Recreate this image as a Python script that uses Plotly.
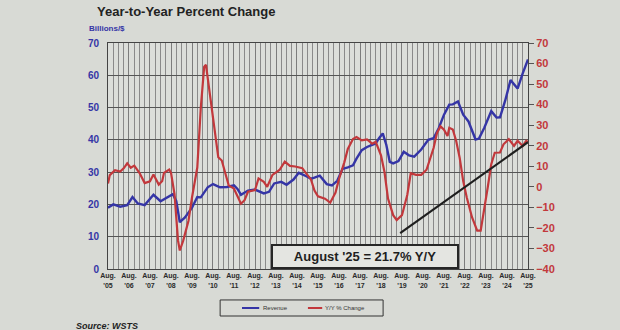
import plotly.graph_objects as go

# Monthly semiconductor revenue (3-month average), billions of dollars
rev_dates = [
    "2005-08", "2005-11", "2006-03", "2006-07", "2006-10", "2007-01", "2007-05", "2007-10",
    "2008-02", "2008-05", "2008-09", "2008-11", "2009-01", "2009-04", "2009-08", "2009-11",
    "2010-01", "2010-05", "2010-08", "2010-12", "2011-04", "2011-08", "2011-10", "2011-12",
    "2012-04", "2012-08", "2012-11", "2013-01", "2013-04", "2013-07", "2013-11", "2014-02",
    "2014-06", "2014-09", "2015-01", "2015-04", "2015-06", "2015-09", "2016-01", "2016-04",
    "2016-07", "2016-10", "2017-01", "2017-04", "2017-06", "2017-09", "2017-12", "2018-03",
    "2018-05", "2018-07", "2018-09", "2018-11", "2019-01", "2019-03", "2019-06", "2019-09",
    "2019-12", "2020-03", "2020-05", "2020-07", "2020-11", "2021-02", "2021-05", "2021-08",
    "2021-11", "2022-01", "2022-04", "2022-07", "2022-10", "2023-02", "2023-04", "2023-07",
    "2023-11", "2024-02", "2024-04", "2024-07", "2024-10", "2025-02", "2025-05", "2025-08",
]
revenue = [
    19.0, 20.0, 19.3, 19.8, 22.3, 20.3, 19.8, 23.0,
    21.0, 22.0, 23.2, 21.0, 14.5, 16.0, 19.0, 22.3,
    22.2, 25.3, 26.3, 25.3, 25.4, 25.9, 24.8, 23.0,
    24.3, 24.6, 23.9, 23.4, 23.9, 26.5, 27.0, 26.1,
    27.7, 29.8, 28.8, 28.0, 28.3, 28.9, 26.3, 25.9,
    27.3, 31.0, 31.5, 32.1, 34.2, 36.8, 37.8, 38.4,
    38.9, 40.6, 42.0, 38.5, 33.2, 32.7, 33.4, 36.3,
    35.2, 34.8, 35.8, 37.0, 40.0, 40.5, 43.6, 47.8,
    50.9, 51.0, 51.9, 47.8, 45.7, 40.1, 40.4, 43.7,
    48.9, 46.9, 47.0, 52.2, 58.5, 55.9, 60.6, 64.9,
]

# Year-over-year percent change
yoy_dates = [
    "2005-08", "2005-09", "2005-12", "2006-03", "2006-05", "2006-07", "2006-09", "2006-11",
    "2007-02", "2007-05", "2007-08", "2007-10", "2008-01", "2008-03", "2008-04", "2008-07",
    "2008-08", "2008-10", "2008-12", "2009-01", "2009-03", "2009-06", "2009-08", "2009-11",
    "2010-01", "2010-03", "2010-04", "2010-06", "2010-09", "2010-11", "2011-01", "2011-03",
    "2011-05", "2011-08", "2011-10", "2011-12", "2012-02", "2012-04", "2012-08", "2012-10",
    "2013-01", "2013-03", "2013-06", "2013-09", "2013-10", "2014-01", "2014-04", "2014-07",
    "2014-11", "2015-01", "2015-04", "2015-06", "2015-08", "2015-12", "2016-03", "2016-06",
    "2016-08", "2016-11", "2017-01", "2017-04", "2017-06", "2017-09", "2017-12", "2018-03",
    "2018-05", "2018-08", "2018-10", "2018-12", "2019-03", "2019-05", "2019-08", "2019-11",
    "2020-01", "2020-04", "2020-07", "2020-10", "2020-12", "2021-02", "2021-04", "2021-06",
    "2021-08", "2021-10", "2021-11", "2022-01", "2022-03", "2022-05", "2022-07", "2022-09",
    "2022-12", "2023-03", "2023-05", "2023-07", "2023-09", "2023-11", "2024-01", "2024-04",
    "2024-06", "2024-09", "2024-12", "2025-02", "2025-05", "2025-07", "2025-08",
]
yoy_change = [
    1.6, 5.7, 8.1, 7.4, 9.0, 11.4, 9.3, 10.3,
    6.7, 1.8, 2.7, 6.0, 1.1, 2.8, 6.8, 8.4,
    6.8, -3.6, -26.2, -31.0, -26.2, -16.5, -5.2, 9.4,
    38.5, 58.5, 59.4, 46.5, 27.3, 14.4, 12.8, 6.3,
    0.7, -0.9, -5.0, -8.2, -6.5, -2.4, -1.6, 4.1,
    2.4, 0.0, 5.8, 7.4, 8.2, 12.3, 10.2, 9.9,
    9.1, 6.8, 3.6, -1.8, -4.6, -5.8, -7.7, -2.8,
    3.8, 11.9, 18.4, 23.3, 24.2, 22.6, 23.1, 21.0,
    21.9, 15.3, 7.2, -5.7, -13.8, -16.2, -13.8, -4.0,
    6.6, 5.8, 5.8, 8.3, 14.0, 18.9, 26.2, 29.4,
    27.8, 24.7, 28.7, 27.9, 22.3, 14.1, 2.8, -5.2,
    -14.8, -21.3, -21.3, -11.6, -0.2, 11.0, 16.6, 16.7,
    20.7, 23.2, 19.9, 22.4, 19.9, 22.4, 21.7,
]

# Hand-drawn trend line from the 2019 trough to the latest reading
trend_dates = ["2019-07", "2025-08"]
trend_values = [-22.5, 21.7]

years = list(range(2005, 2026))
tick_vals = [f"{y}-08-01" for y in years]
tick_text = [f"Aug.<br>'{y % 100:02d}" for y in years]

legend_names = ["Revenue", "Y/Y % Change"]

BLUE = "#3535a6"
RED = "#c2383c"
BG = "#d8dad5"
FONT = "Liberation Sans, Arial, sans-serif"

fig = go.Figure()
fig.add_trace(go.Scatter(
    x=rev_dates, y=revenue, name=legend_names[0], mode="lines",
    line=dict(color=BLUE, width=2.4), yaxis="y",
))
fig.add_trace(go.Scatter(
    x=yoy_dates, y=yoy_change, name=legend_names[1], mode="lines",
    line=dict(color=RED, width=2.2), yaxis="y2",
))
fig.add_trace(go.Scatter(
    x=trend_dates, y=trend_values, mode="lines",
    line=dict(color="#1e1e1e", width=2.2), yaxis="y2",
))

fig.update_layout(
    width=620, height=330,
    margin=dict(l=108, r=92, t=43, b=61, autoexpand=False),
    paper_bgcolor=BG, plot_bgcolor="#dcdeda",
    font=dict(family=FONT, color="#222"),
    showlegend=False,
    xaxis=dict(
        type="date", range=["2005-08-01", "2025-08-01"],
        tickmode="array", tickvals=tick_vals, ticktext=tick_text,
        tickfont=dict(size=7, color="#2a2a2a", family=FONT, weight="bold"),
        showgrid=True, gridcolor="#7c7c7c", gridwidth=0.8,
        minor=dict(tick0="2005-08-01", dtick="M3", showgrid=True,
                   gridcolor="#8a8a8a", gridwidth=0.7),
        showline=True, linecolor="#444", linewidth=1, mirror=True,
        ticks="", zeroline=False,
    ),
    yaxis=dict(
        range=[0, 70], dtick=10, showgrid=True, gridcolor="#555", gridwidth=1,
        tickfont=dict(size=10, color=BLUE, family=FONT, weight="bold"),
        ticks="outside", ticklen=6, tickcolor="rgba(0,0,0,0)",
        showline=True, linecolor="#444", linewidth=1, mirror=True, zeroline=False,
    ),
    yaxis2=dict(
        range=[-40, 70], dtick=10, overlaying="y", side="right", showgrid=False,
        tickfont=dict(size=11, color=RED, family=FONT, weight="bold"),
        ticks="outside", ticklen=5, tickcolor="#555", zeroline=False,
    ),
)

# Legend panel below the x axis
fig.add_shape(type="rect", xref="paper", yref="paper",
              x0=0.267, x1=0.655, y0=-0.208, y1=-0.137,
              line=dict(color="#333", width=1), fillcolor="rgba(0,0,0,0)")
fig.add_shape(type="line", xref="paper", yref="paper",
              x0=0.319, x1=0.36, y0=-0.1725, y1=-0.1725,
              line=dict(color=BLUE, width=2))
fig.add_shape(type="line", xref="paper", yref="paper",
              x0=0.476, x1=0.51, y0=-0.1725, y1=-0.1725,
              line=dict(color=RED, width=2))
fig.add_annotation(text=legend_names[0], xref="paper", yref="paper",
                   x=0.364, y=-0.1725, xanchor="left", yanchor="middle",
                   showarrow=False, font=dict(size=6, color="#333"))
fig.add_annotation(text=legend_names[1], xref="paper", yref="paper",
                   x=0.512, y=-0.1725, xanchor="left", yanchor="middle",
                   showarrow=False, font=dict(size=6, color="#333"))

fig.add_annotation(
    text="<b>Year-to-Year Percent Change</b>", xref="paper", yref="paper",
    x=-0.031, y=1.14, xanchor="left", yanchor="middle", showarrow=False,
    font=dict(size=13, color="#222"),
)
fig.add_annotation(
    text="<b>Billions/$</b>", xref="paper", yref="paper",
    x=-0.05, y=1.063, xanchor="left", yanchor="middle", showarrow=False,
    font=dict(size=8, color=BLUE),
)
fig.add_annotation(
    text="<b>August '25 = 21.7% Y/Y</b>", xref="paper", yref="paper",
    x=0.612, y=0.0, xanchor="center", yanchor="bottom", showarrow=False,
    font=dict(size=13, color="#1e1e1e"),
    bgcolor="#e4e5e1", bordercolor="#262626", borderwidth=2, borderpad=3,
    width=178,
)
fig.add_annotation(
    text="<b><i>Source: WSTS</i></b>", xref="paper", yref="paper",
    x=-0.08, y=-0.25, xanchor="left", yanchor="middle", showarrow=False,
    font=dict(size=9, color="#222"),
)

fig.write_html("out.html")
